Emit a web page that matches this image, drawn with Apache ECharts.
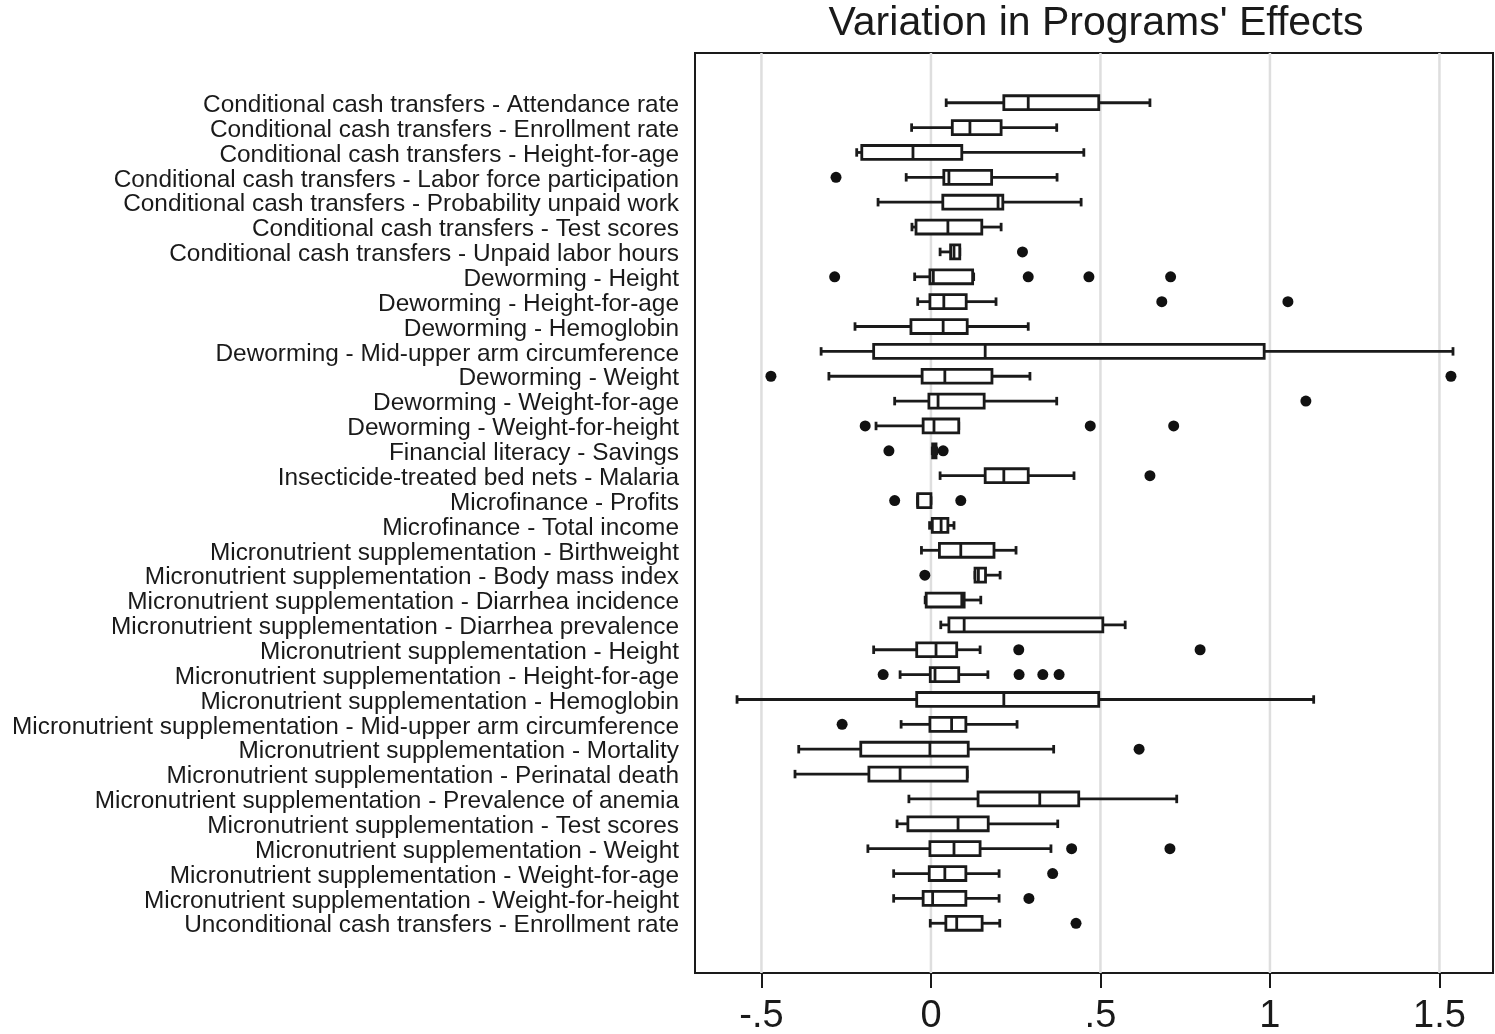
<!DOCTYPE html>
<html>
<head>
<meta charset="utf-8">
<script src="https://cdn.jsdelivr.net/npm/echarts@6/dist/echarts.min.js"></script>
<style>html,body{margin:0;padding:0;background:#fff;}#c{width:1495px;height:1034px;}</style>
</head>
<body>
<div id="c"></div>
<script>
const titleText = "Variation in Programs' Effects";
const categories = [
  "Conditional cash transfers - Attendance rate",
  "Conditional cash transfers - Enrollment rate",
  "Conditional cash transfers - Height-for-age",
  "Conditional cash transfers - Labor force participation",
  "Conditional cash transfers - Probability unpaid work",
  "Conditional cash transfers - Test scores",
  "Conditional cash transfers - Unpaid labor hours",
  "Deworming - Height",
  "Deworming - Height-for-age",
  "Deworming - Hemoglobin",
  "Deworming - Mid-upper arm circumference",
  "Deworming - Weight",
  "Deworming - Weight-for-age",
  "Deworming - Weight-for-height",
  "Financial literacy - Savings",
  "Insecticide-treated bed nets - Malaria",
  "Microfinance - Profits",
  "Microfinance - Total income",
  "Micronutrient supplementation - Birthweight",
  "Micronutrient supplementation - Body mass index",
  "Micronutrient supplementation - Diarrhea incidence",
  "Micronutrient supplementation - Diarrhea prevalence",
  "Micronutrient supplementation - Height",
  "Micronutrient supplementation - Height-for-age",
  "Micronutrient supplementation - Hemoglobin",
  "Micronutrient supplementation - Mid-upper arm circumference",
  "Micronutrient supplementation - Mortality",
  "Micronutrient supplementation - Perinatal death",
  "Micronutrient supplementation - Prevalence of anemia",
  "Micronutrient supplementation - Test scores",
  "Micronutrient supplementation - Weight",
  "Micronutrient supplementation - Weight-for-age",
  "Micronutrient supplementation - Weight-for-height",
  "Unconditional cash transfers - Enrollment rate"
];
const lowWhisker = [0.045,-0.057,-0.219,-0.073,-0.156,-0.056,0.027,-0.048,-0.039,-0.224,-0.324,-0.301,-0.107,-0.162,0.004,0.027,-0.039,-0.004,-0.028,0.130,-0.017,0.029,-0.169,-0.091,-0.572,-0.088,-0.390,-0.401,-0.065,-0.100,-0.186,-0.110,-0.110,-0.002];
const q1 = [0.215,0.063,-0.204,0.038,0.035,-0.044,0.058,-0.003,-0.003,-0.059,-0.169,-0.026,-0.006,-0.023,0.005,0.160,-0.039,0.004,0.025,0.130,-0.014,0.053,-0.042,-0.002,-0.042,-0.003,-0.207,-0.183,0.139,-0.068,-0.003,-0.005,-0.023,0.044];
const median = [0.287,0.115,-0.053,0.053,0.198,0.050,0.068,0.007,0.038,0.036,0.160,0.041,0.021,0.009,0.010,0.215,-0.039,0.030,0.088,0.140,0.091,0.098,0.015,0.012,0.215,0.061,-0.003,-0.091,0.321,0.080,0.068,0.041,0.005,0.076];
const q3 = [0.495,0.207,0.091,0.179,0.212,0.150,0.085,0.123,0.104,0.107,0.983,0.180,0.157,0.082,0.015,0.287,0.000,0.050,0.186,0.161,0.098,0.507,0.076,0.082,0.495,0.103,0.110,0.107,0.436,0.169,0.145,0.103,0.103,0.151];
const highWhisker = [0.646,0.371,0.451,0.372,0.443,0.207,0.085,0.126,0.192,0.287,1.540,0.292,0.371,0.082,0.017,0.422,0.000,0.068,0.251,0.204,0.147,0.573,0.145,0.168,1.129,0.254,0.362,0.107,0.725,0.374,0.354,0.201,0.201,0.203];
// outliers: [value, row index]
const outliers = [
  [-0.280,3],[0.270,6],
  [-0.284,7],[0.287,7],[0.466,7],[0.707,7],
  [0.681,8],[1.053,8],
  [-0.472,11],[1.534,11],
  [1.106,12],
  [-0.194,13],[0.470,13],[0.716,13],
  [-0.124,14],[0.036,14],
  [0.646,15],
  [-0.107,16],[0.088,16],
  [-0.018,19],
  [0.259,22],[0.794,22],
  [-0.141,23],[0.260,23],[0.330,23],[0.378,23],
  [-0.262,25],
  [0.614,26],
  [0.415,30],[0.705,30],
  [0.359,31],
  [0.289,32],
  [0.428,33]
];
const xTicks = [-0.5, 0, 0.5, 1, 1.5];

const ink = '#1a1a1a';
const boxData = categories.map((c, i) => [i, lowWhisker[i], q1[i], median[i], q3[i], highWhisker[i]]);

const chart = echarts.init(document.getElementById('c'));
chart.setOption({
  animation: false,
  backgroundColor: '#fff',
  textStyle: { fontFamily: 'Liberation Sans' },
  graphic: [{
    type: 'text', x: 1096, y: 24,
    style: { text: titleText, textAlign: 'center', textVerticalAlign: 'middle', fontSize: 41, fontFamily: 'Liberation Sans', fill: ink }
  }],
  grid: { left: 695, right: 2, top: 53, bottom: 61, outerBoundsMode: 'none', show: true, borderColor: ink, borderWidth: 2, backgroundColor: 'transparent' },
  xAxis: {
    type: 'value', min: -0.696, max: 1.658,
    axisLine: { show: true, onZero: false, lineStyle: { color: ink, width: 2 } },
    axisTick: { show: true, customValues: xTicks, length: 15, lineStyle: { color: ink, width: 2 } },
    axisLabel: {
      customValues: xTicks, fontSize: 38, color: ink, margin: 25, fontFamily: 'Liberation Sans',
      formatter: v => { const s = String(v); return s.replace(/^(-?)0\./, '$1.'); }
    },
    splitLine: { show: false }
  },
  yAxis: {
    type: 'value', inverse: true, min: -2, max: 35, interval: 1,
    axisLine: { show: false }, axisTick: { show: false }, splitLine: { show: false },
    axisLabel: {
      fontSize: 24.4, color: ink, margin: 16, fontFamily: 'Liberation Sans',
      formatter: v => (categories[v] !== undefined ? '{n|' + categories[v] + '}' : ''),
      rich: { n: { fontSize: 24.4, color: ink, fontFamily: 'Liberation Sans', padding: [5, 0, 0, 0] } }
    }
  },
  series: [
    {
      type: 'custom', name: 'grid', z: 1, silent: true,
      data: xTicks.map(v => [v]),
      renderItem: (params, api) => {
        const v = api.value(0);
        const a = api.coord([v, -2]);
        const b = api.coord([v, 35]);
        return { type: 'line', shape: { x1: a[0], y1: a[1], x2: b[0], y2: b[1] }, style: { stroke: '#dedede', lineWidth: 2.5 } };
      },
      encode: { x: 0 }
    },
    {
      type: 'custom', name: 'boxes', z: 3,
      data: boxData,
      encode: { y: 0, x: [1, 2, 3, 4, 5] },
      renderItem: (params, api) => {
        const i = api.value(0);
        const band = api.size([0, 1])[1];
        const hb = band * 0.28, hc = band * 0.17;
        const pLo = api.coord([api.value(1), i]);
        const pQ1 = api.coord([api.value(2), i]);
        const pMed = api.coord([api.value(3), i]);
        const pQ3 = api.coord([api.value(4), i]);
        const pHi = api.coord([api.value(5), i]);
        const y = pMed[1];
        const lw = 2.8;
        const st = { stroke: ink, lineWidth: lw };
        return {
          type: 'group',
          children: [
            { type: 'line', shape: { x1: pLo[0], y1: y, x2: pQ1[0], y2: y }, style: st },
            { type: 'line', shape: { x1: pQ3[0], y1: y, x2: pHi[0], y2: y }, style: st },
            { type: 'line', shape: { x1: pLo[0], y1: y - hc, x2: pLo[0], y2: y + hc }, style: st },
            { type: 'line', shape: { x1: pHi[0], y1: y - hc, x2: pHi[0], y2: y + hc }, style: st },
            { type: 'rect', shape: { x: pQ1[0], y: y - hb, width: Math.max(pQ3[0] - pQ1[0], 1), height: 2 * hb }, style: { fill: '#fff', stroke: ink, lineWidth: lw } },
            { type: 'line', shape: { x1: pMed[0], y1: y - hb, x2: pMed[0], y2: y + hb }, style: st }
          ]
        };
      }
    },
    {
      type: 'scatter', name: 'outliers', z: 4,
      data: outliers,
      symbol: 'circle', symbolSize: 11,
      itemStyle: { color: '#111', opacity: 1 }
    }
  ]
});
</script>
</body>
</html>
